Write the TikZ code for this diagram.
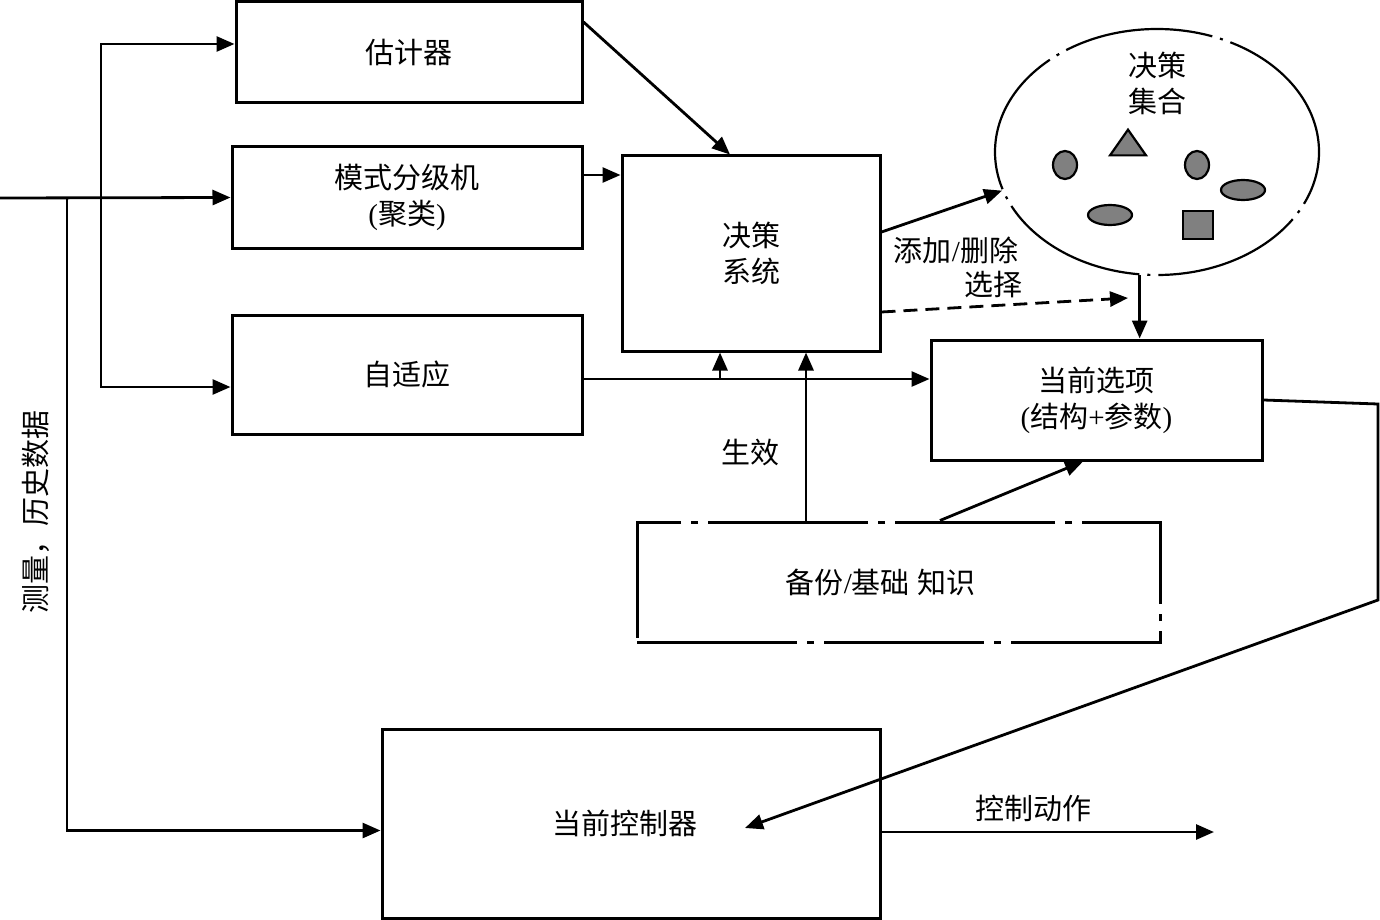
\documentclass[tikz,border=0pt]{standalone}
\usepackage{fontspec}
\setmainfont{Liberation Serif}
\newfontfamily\cjk{Noto Sans CJK SC}
\usetikzlibrary{arrows.meta,shapes.geometric,calc}
\begin{document}
\begin{tikzpicture}[x=1pt,y=-1pt,
  font=\fontsize{29}{36}\selectfont,
  box/.style={draw,line width=3pt,rectangle,align=center,inner sep=0pt},
  dashbox/.style={box,dash pattern=on 160pt off 10pt on 7pt off 10pt},
  arr/.style={line width=2.8pt,-{Triangle[length=18pt,width=15pt]}},
  shp/.style={draw,line width=2.2pt,fill=gray!75!black!80}]
\useasboundingbox (0,0) rectangle (1380,920);
% boxes
\node[box,minimum width=346pt,minimum height=101pt] (est) at (409,52.5) {\cjk 估计器};
\node[box,minimum width=350pt,minimum height=101pt] (pat) at (407,197.5) {{\cjk 模式分级机}\\({\cjk 聚类})};
\node[box,minimum width=350pt,minimum height=119pt] (ada) at (407,374.5) {\cjk 自适应};
\node[box,minimum width=258pt,minimum height=195pt] (dec) at (751,253.5) {\cjk 决策\\\cjk 系统};
\node[box,minimum width=331pt,minimum height=120pt] (cur) at (1096.5,400) {{\cjk 当前选项}\\({\cjk 结构}+{\cjk 参数})};
\node[dashbox,minimum width=523pt,minimum height=120pt] (bak) at (898.5,582) {\hspace*{-36pt}{\cjk 备份}/{\cjk 基础} {\cjk 知识}};
\node[box,minimum width=498pt,minimum height=189pt] (ctl) at (631,823.5) {\hspace*{-12pt}\cjk 当前控制器};
% decision set ellipse
\node[draw,ellipse,line width=2.2pt,minimum width=324pt,minimum height=246pt,inner sep=0pt,
      dash pattern=on 150pt off 8pt on 3pt off 8pt] (set) at (1157,152) {};
\node[align=center] (setlbl) at (1157,83) {\cjk 决策\\\cjk 集合};
\node[shp,ellipse,minimum width=24pt,minimum height=28pt,inner sep=0pt] (e1) at (1065,165) {};
\node[shp,isosceles triangle,isosceles triangle apex angle=70,shape border rotate=90,minimum height=25pt,minimum width=36pt,inner sep=0pt] (t1) at (1128,146) {};
\node[shp,ellipse,minimum width=24pt,minimum height=28pt,inner sep=0pt] (e2) at (1197,165) {};
\node[shp,ellipse,minimum width=44pt,minimum height=20pt,inner sep=0pt] (e3) at (1243,190) {};
\node[shp,ellipse,minimum width=44pt,minimum height=20pt,inner sep=0pt] (e4) at (1110,215) {};
\node[shp,rectangle,minimum width=30pt,minimum height=28pt,inner sep=0pt] (s1) at (1198,225) {};
% input lines
\coordinate (in) at (0,198);
\coordinate (b1) at (101,198);
\coordinate (b2) at (67,198);
\draw[arr] (in) -- (pat.west);
\draw[arr] (b1) |- ([yshift=8.5pt]est.west);
\draw[arr] (b1) |- ([yshift=-12.5pt]ada.west);
\draw[arr] (b2) |- ([yshift=-7pt]ctl.west);
\node[rotate=90] (meas) at (36,512) {\cjk 测量，历史数据};
% to decision system
\draw[arr] ([yshift=30.5pt]est.east) -- ([xshift=-21pt]dec.north);
\draw[arr] ([yshift=22.5pt]pat.east) -- ([yshift=22.5pt]pat.east -| dec.west);
\draw[arr] ([yshift=-4.5pt]ada.east) -- ([yshift=-4.5pt]ada.east -| cur.west);
\coordinate (j1) at (720,379);
\draw[arr] (j1) -- (j1 |- dec.south);
\draw[arr] ([xshift=-92.5pt]bak.north) -- ([xshift=55pt]dec.south);
\node (eff) at (750,453) {\cjk 生效};
\draw[arr] ([xshift=41.5pt]bak.north) -- ([xshift=-13.5pt]cur.south);
% decision system to set
\draw[arr] ([yshift=21.5pt]dec.east) -- (set.194);
\node (add) at (956,250) {{\cjk 添加}/{\cjk 删除}};
\node (sel) at (993,285) {\cjk 选择};
\coordinate (selend) at (1128,298);
\draw[arr,dash pattern=on 14pt off 8pt] ([yshift=-58.5pt]dec.east) -- (selend);
\draw[arr] (set.262) -- (set.262 |- cur.north);
% current option to controller
\coordinate (r1) at (1378,404);
\coordinate (r2) at (1378,600);
\draw[arr] (cur.east) -- (r1) -- (r2) -- ([xshift=114pt,yshift=-4.5pt]ctl.center);
% control action
\coordinate (out) at (1214,832);
\draw[arr] ([yshift=-8.5pt]ctl.east) -- (out);
\node (act) at (1033,808) {\cjk 控制动作};
\end{tikzpicture}
\end{document}
